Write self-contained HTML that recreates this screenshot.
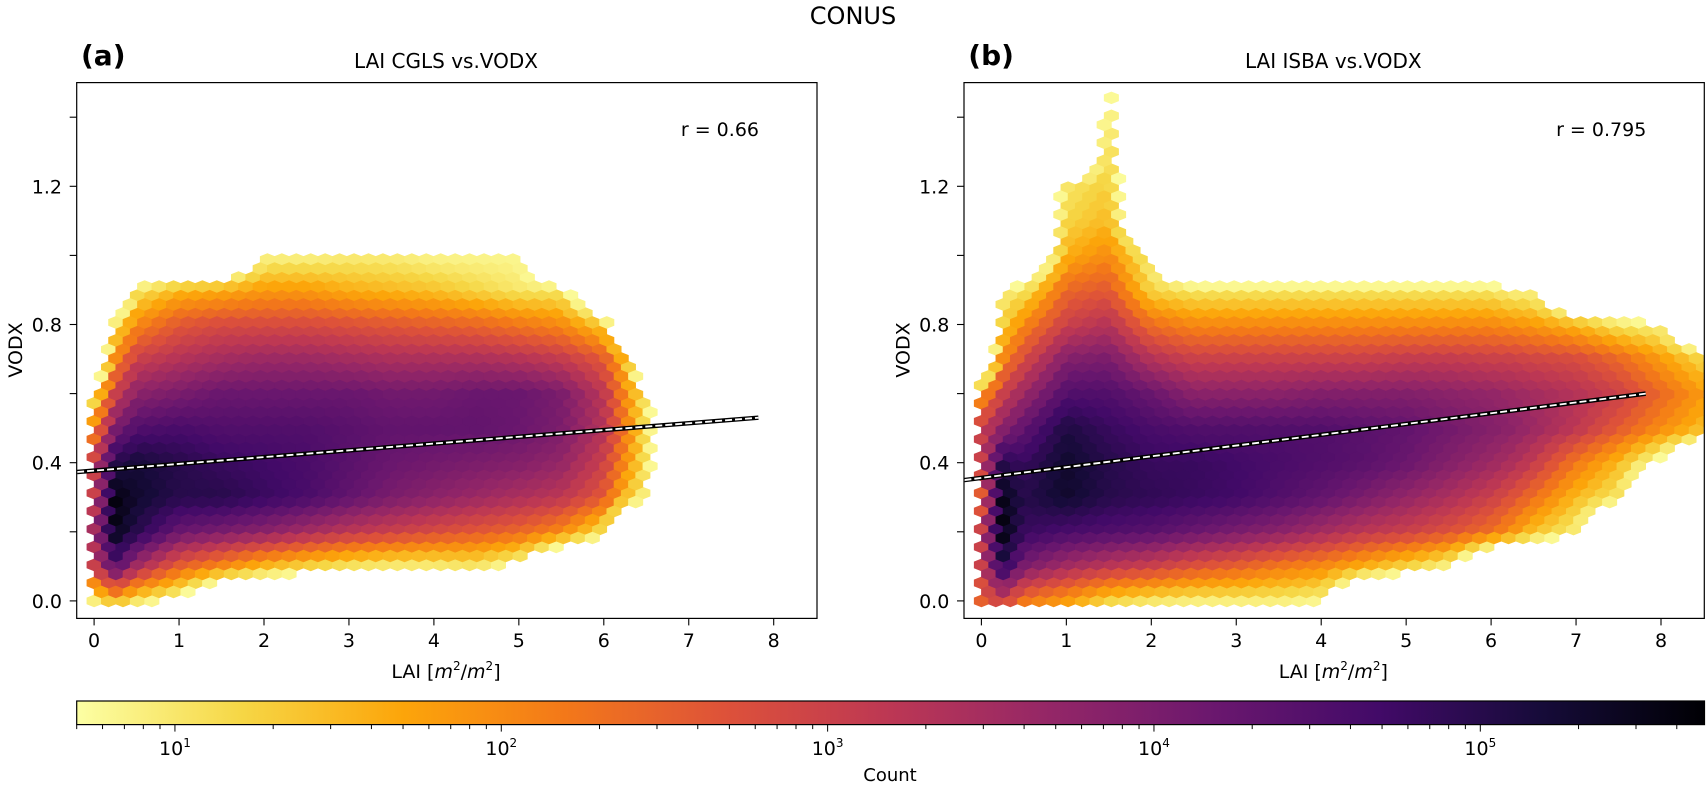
<!DOCTYPE html>
<html><head><meta charset="utf-8"><style>
html,body{margin:0;padding:0;background:#fff;}
svg{display:block;font-family:"DejaVu Sans","Liberation Sans",sans-serif;}
</style></head><body>
<svg id="fig" width="1706" height="785" viewBox="0 0 1706 785">
<defs>
<linearGradient id="cbgrad" x1="0" x2="1" y1="0" y2="0"></linearGradient>
<clipPath id="clipA"><rect x="76.7" y="82.6" width="740.3" height="535.8"/></clipPath>
<clipPath id="clipB"><rect x="964" y="82.6" width="740.3" height="535.8"/></clipPath>
</defs>
<text x="853" y="24" font-size="24" text-anchor="middle">CONUS</text>
<g id="panelA"></g>
<g id="panelB"></g>
<g id="cbar"></g>
</svg>
<script>
const NS="http://www.w3.org/2000/svg";
// ---- data ----
const xNodes=[0,0.25,0.5,1,1.5,2,2.5,3,3.5,4,4.5,5,5.5,6,6.25,6.5,7,7.5,8,8.5];
const yNodes=[0,0.1,0.2,0.3,0.4,0.5,0.6,0.7,0.8,0.9,1.0,1.1,1.2,1.3,1.4,1.5];
// log10(count), columns per xNode, values for yNodes (-1 = empty)
const logCountA=[
[0.9,3.0,3.5,3.0,3.0,2.0,0.9,-1,-1,-1,-1,-1,-1,-1,-1,-1],
[1.5,4.5,5.5,5.6,5.0,4.0,3.0,2.0,1.0,-1,-1,-1,-1,-1,-1,-1],
[1.0,3.5,5.0,5.3,5.2,4.5,3.8,3.0,2.0,1.0,-1,-1,-1,-1,-1,-1],
[0.5,2.5,4.2,5.0,5.0,4.6,4.0,3.3,2.6,1.5,-1,-1,-1,-1,-1,-1],
[-1,2.0,4.0,5.0,4.8,4.5,4.2,3.5,2.8,1.6,-1,-1,-1,-1,-1,-1],
[-1,1.5,3.8,4.8,4.7,4.5,4.2,3.6,2.8,1.8,0.8,-1,-1,-1,-1,-1],
[-1,1.2,3.5,4.6,4.6,4.5,4.2,3.6,2.8,1.8,0.8,-1,-1,-1,-1,-1],
[-1,1.0,3.2,4.3,4.4,4.4,4.2,3.5,2.7,1.6,0.9,-1,-1,-1,-1,-1],
[-1,0.9,3.0,4.0,4.2,4.3,4.1,3.4,2.6,1.5,0.9,-1,-1,-1,-1,-1],
[-1,0.9,2.8,3.8,4.1,4.3,4.1,3.4,2.5,1.4,0.8,-1,-1,-1,-1,-1],
[-1,1.0,2.6,3.6,4.0,4.3,4.2,3.4,2.4,1.2,0.8,-1,-1,-1,-1,-1],
[-1,0.6,2.4,3.4,3.9,4.2,4.2,3.3,2.2,1.0,0.8,-1,-1,-1,-1,-1],
[-1,-1,2.0,3.2,3.7,4.0,4.0,3.1,2.0,1.0,-1,-1,-1,-1,-1,-1],
[-1,-1,1.0,2.6,3.0,3.3,3.2,2.6,1.3,-1,-1,-1,-1,-1,-1,-1],
[-1,-1,-1,1.5,2.0,2.2,2.0,1.5,-1,-1,-1,-1,-1,-1,-1,-1],
[-1,-1,-1,0.8,1.0,1.0,0.9,-1,-1,-1,-1,-1,-1,-1,-1,-1],
[-1,-1,-1,-1,-1,-1,-1,-1,-1,-1,-1,-1,-1,-1,-1,-1],
[-1,-1,-1,-1,-1,-1,-1,-1,-1,-1,-1,-1,-1,-1,-1,-1],
[-1,-1,-1,-1,-1,-1,-1,-1,-1,-1,-1,-1,-1,-1,-1,-1],
[-1,-1,-1,-1,-1,-1,-1,-1,-1,-1,-1,-1,-1,-1,-1,-1]];
const logCountB=[
[2.5,3.0,3.0,2.5,3.0,3.0,1.8,-1,-1,-1,-1,-1,-1,-1,-1,-1],
[3.0,5.0,5.6,5.5,5.0,3.8,3.0,2.0,1.2,0.9,-1,-1,-1,-1,-1,-1],
[2.2,4.0,4.8,5.0,4.8,4.3,3.6,2.8,2.0,1.0,-1,-1,-1,-1,-1,-1],
[1.8,3.5,4.6,5.3,5.3,5.1,4.5,3.9,3.0,2.4,1.6,1.2,1.0,-1,-1,-1],
[1.2,3.2,4.5,5.0,5.0,4.8,4.5,4.0,3.3,2.6,2.0,1.5,1.3,1.2,1.0,0.8],
[1.0,3.0,4.4,4.9,4.8,4.6,4.2,3.3,2.3,1.2,0.8,-1,-1,-1,-1,-1],
[0.9,2.7,4.2,4.8,4.8,4.5,3.8,3.0,2.0,1.0,-1,-1,-1,-1,-1,-1],
[0.9,2.5,4.0,4.7,4.7,4.5,3.8,3.0,2.0,1.0,-1,-1,-1,-1,-1,-1],
[0.9,2.2,3.8,4.5,4.6,4.5,3.8,3.0,2.0,1.0,-1,-1,-1,-1,-1,-1],
[0.8,2.0,3.5,4.3,4.5,4.5,3.9,3.0,2.0,1.0,-1,-1,-1,-1,-1,-1],
[-1,1.6,3.2,4.0,4.4,4.4,3.9,3.0,2.0,1.0,-1,-1,-1,-1,-1,-1],
[-1,1.2,3.0,3.7,4.2,4.3,3.9,3.1,2.0,1.0,-1,-1,-1,-1,-1,-1],
[-1,0.8,2.7,3.4,3.9,4.1,3.8,3.1,2.0,1.0,-1,-1,-1,-1,-1,-1],
[-1,-1,2.3,3.0,3.6,3.9,3.7,3.0,2.0,1.0,-1,-1,-1,-1,-1,-1],
[-1,-1,1.9,2.7,3.4,3.8,3.6,3.0,1.9,0.8,-1,-1,-1,-1,-1,-1],
[-1,-1,1.4,2.3,3.1,3.6,3.5,2.9,1.8,0.8,-1,-1,-1,-1,-1,-1],
[-1,-1,0.9,1.5,2.2,3.2,3.3,2.8,1.5,-1,-1,-1,-1,-1,-1,-1],
[-1,-1,-1,1.0,1.5,2.6,3.0,2.4,1.0,-1,-1,-1,-1,-1,-1,-1],
[-1,-1,-1,-1,0.5,2.0,2.4,1.8,0.8,-1,-1,-1,-1,-1,-1,-1],
[-1,-1,-1,-1,-1,1.5,1.8,1.2,-1,-1,-1,-1,-1,-1,-1,-1]];
const xTicks=[0,1,2,3,4,5,6,7,8];
const yTicks=[0.0,0.4,0.8,1.2];
const yTickLabels=["0.0","0.4","0.8","1.2"];
const yMinorTicks=[0.2,0.6,1.0,1.4];
const fitA=[0.377,0.0196]; // intercept, slope
const fitB=[0.356,0.0312];
const rA="r = 0.66", rB="r = 0.795";
const cbDecades=[1,2,3,4,5];
// ---- helpers ----
const inferno=[[0,0,4],[22,11,57],[66,10,104],[106,23,110],[147,38,103],[188,55,84],[221,81,58],[243,120,25],[252,165,10],[246,215,70],[252,255,164]];
function cmap(t){t=Math.max(0,Math.min(1,t));const p=t*10,i=Math.min(9,Math.floor(p)),f=p-i;const a=inferno[i],b=inferno[i+1];
return `rgb(${Math.round(a[0]+(b[0]-a[0])*f)},${Math.round(a[1]+(b[1]-a[1])*f)},${Math.round(a[2]+(b[2]-a[2])*f)})`;}
const LMIN=Math.log10(5),LMAX=5.687;
function colorFor(v){return cmap(1-(v-LMIN)/(LMAX-LMIN));}
function el(tag,attrs,parent){const e=document.createElementNS(NS,tag);for(const k in attrs)e.setAttribute(k,attrs[k]);if(parent)parent.appendChild(e);return e;}
function interp(grid,x,y){
 if(x<xNodes[0]||x>xNodes[xNodes.length-1]||y<yNodes[0]||y>yNodes[yNodes.length-1])return -1;
 let i=0;while(i<xNodes.length-2&&x>xNodes[i+1])i++;
 let j=Math.min(yNodes.length-2,Math.floor((y-yNodes[0])/0.1));
 const fx=(x-xNodes[i])/(xNodes[i+1]-xNodes[i]),fy=(y-yNodes[j])/(yNodes[j+1]-yNodes[j]);
 const v00=grid[i][j],v10=grid[i+1][j],v01=grid[i][j+1],v11=grid[i+1][j+1];
 return v00*(1-fx)*(1-fy)+v10*fx*(1-fy)+v01*(1-fx)*fy+v11*fx*fy;}
const X0=94.1,PX=84.95,Y0=600.9,PY=345.5;
function drawPanel(g,off,grid,clip,label,title,rtxt,fit){
 const sx=(x)=>off+X0+x*PX, sy=(y)=>Y0-y*PY;
 const hexG=el('g',{'clip-path':`url(#${clip})`},g);
 
 
 const dx=0.17,dy=0.052;
 for(let lat=0;lat<2;lat++){
  for(let i=-1;i<53;i++){for(let j=-1;j<30;j++){
   const x=i*dx+lat*dx/2, y=j*dy+lat*dy/2;
   const v=interp(grid,x,y); if(v<0.75)continue;
   const cx=sx(x),cy=sy(y),hw=dx*PX/2+0.3,h1=dy*PY/6+0.3,h2=dy*PY/3+0.3;
   const p=el('polygon',{points:`${cx+hw},${cy+h1} ${cx},${cy+h2} ${cx-hw},${cy+h1} ${cx-hw},${cy-h1} ${cx},${cy-h2} ${cx+hw},${cy-h1}`,fill:colorFor(v)},hexG);
   
   
  }}
 }
 const lg=el('g',{'clip-path':`url(#${clip})`},g);
 
 
 const x1=-0.2,x2=7.82;
 el('line',{x1:sx(x1),y1:sy(fit[0]+fit[1]*x1),x2:sx(x2),y2:sy(fit[0]+fit[1]*x2),stroke:'#000','stroke-width':4.5},lg);
 el('line',{x1:sx(x1),y1:sy(fit[0]+fit[1]*x1),x2:sx(x2),y2:sy(fit[0]+fit[1]*x2),stroke:'#fff','stroke-width':1.8,'stroke-dasharray':'7,3'},lg);
 const fr=el('rect',{x:off+76.7,y:82.6,width:740.3,height:535.8,fill:'none',stroke:'#000','stroke-width':1.2},g);
 
 
 xTicks.forEach(t=>{el('line',{x1:sx(t),x2:sx(t),y1:618.4,y2:625.4,stroke:'#000','stroke-width':1.1},g);
  const tx=el('text',{x:sx(t),y:647,'font-size':19,'text-anchor':'middle'},g);tx.textContent=String(t);
  
  });
 yTicks.forEach((t,k)=>{el('line',{x1:off+76.7,x2:off+69.7,y1:sy(t),y2:sy(t),stroke:'#000','stroke-width':1.1},g);
  const tx=el('text',{x:off+62,y:sy(t)+7,'font-size':19,'text-anchor':'end'},g);tx.textContent=yTickLabels[k];
  
  });
 yMinorTicks.forEach(t=>{el('line',{x1:off+76.7,x2:off+69.7,y1:sy(t),y2:sy(t),stroke:'#000','stroke-width':1.1},g);});
 const xl=el('text',{x:off+446,y:678,'font-size':19,'text-anchor':'middle'},g);
 xl.innerHTML='LAI [<tspan font-style="italic">m</tspan><tspan font-size="12" dy="-8">2</tspan><tspan dy="8">/</tspan><tspan font-style="italic">m</tspan><tspan font-size="12" dy="-8">2</tspan><tspan dy="8">]</tspan>';
 
 
 const yl=el('text',{x:0,y:0,'font-size':19,'text-anchor':'middle',transform:`translate(${off+22},350) rotate(-90)`},g);yl.textContent='VODX';
 
 
 const tt=el('text',{x:off+446,y:68,'font-size':20,'text-anchor':'middle'},g);tt.textContent=title;
 
 
 const lb=el('text',{x:off+81,y:65,'font-size':28,'font-weight':'bold'},g);lb.textContent=label;
 
 
 const rt=el('text',{x:off+759,y:136,'font-size':19,'text-anchor':'end'},g);rt.textContent=rtxt;
 
 
}
drawPanel(document.getElementById('panelA'),0,logCountA,'clipA','(a)','LAI CGLS vs.VODX',rA,fitA);
drawPanel(document.getElementById('panelB'),887.3,logCountB,'clipB','(b)','LAI ISBA vs.VODX',rB,fitB);
const grad=document.getElementById('cbgrad');
for(let k=0;k<=20;k++){el('stop',{offset:k/20,'stop-color':cmap(1-k/20)},grad);}
const cb=document.getElementById('cbar');
const CB_L=76.7,CB_R=1704.5,CB_T=701,CB_B=724.6;
const cx=(lv)=>CB_L+(lv-LMIN)/(LMAX-LMIN)*(CB_R-CB_L);
const cr=el('rect',{x:CB_L,y:CB_T,width:CB_R-CB_L,height:CB_B-CB_T,fill:'url(#cbgrad)',stroke:'#000','stroke-width':1.2},cb);


for(let d=0;d<=5;d++){for(let m=1;m<10;m++){const lv=d+Math.log10(m);if(lv<LMIN-1e-6||lv>LMAX)continue;
 el('line',{x1:cx(lv),x2:cx(lv),y1:CB_B,y2:CB_B+(m===1?7:4.5),stroke:'#000','stroke-width':1},cb);}}
cbDecades.forEach(d=>{const t=el('text',{x:cx(d),y:755,'font-size':19,'text-anchor':'middle'},cb);
 t.innerHTML=`10<tspan font-size="12" dy="-8">${d}</tspan>`;
 
 });
const ct=el('text',{x:890,y:781,'font-size':18,'text-anchor':'middle'},cb);ct.textContent='Count';


</script>
</body></html>
